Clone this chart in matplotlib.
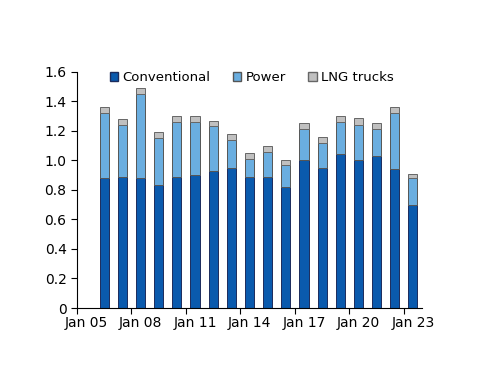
import numpy as np
import matplotlib
matplotlib.use("Agg")
import matplotlib.pyplot as plt
from matplotlib.patches import Patch

# yearly bars, 2006..2023 (plotted mid-year)
years = np.arange(2006, 2024)
conventional = [0.88, 0.89, 0.88, 0.83, 0.89, 0.90, 0.93, 0.95, 0.89, 0.89, 0.82, 1.00, 0.95, 1.04, 1.00, 1.03, 0.94, 0.70]
power = [0.44, 0.35, 0.57, 0.32, 0.37, 0.36, 0.30, 0.19, 0.12, 0.17, 0.15, 0.21, 0.17, 0.22, 0.24, 0.18, 0.38, 0.18]
lng = [0.04, 0.04, 0.04, 0.04, 0.04, 0.04, 0.04, 0.04, 0.04, 0.04, 0.035, 0.04, 0.035, 0.04, 0.045, 0.045, 0.04, 0.03]
tick_years = [2005, 2008, 2011, 2014, 2017, 2020, 2023]
tick_labels = ["Jan 05", "Jan 08", "Jan 11", "Jan 14", "Jan 17", "Jan 20", "Jan 23"]

c_conv = "#0a5aad"
c_pow = "#6aaee0"
c_lng = "#c0c0c0"

plt.rcParams['font.family'] = ['DejaVu Sans']
fig = plt.figure(figsize=(5.0, 3.86), dpi=100)
ax = fig.add_axes([0.154, 0.202, 0.69, 0.612])

x = years + 0.5
w = 0.5
conv = np.array(conventional)
pw = np.array(power)
ax.bar(x, conv, w, color=c_conv, edgecolor="#1c2c5c", linewidth=0.7)
ax.bar(x, pw, w, bottom=conv, color=c_pow, edgecolor="#555555", linewidth=0.7)
ax.bar(x, lng, w, bottom=conv + pw, color=c_lng, edgecolor="#666666", linewidth=0.7)

ax.set_xlim(2005, 2024)
ax.set_ylim(0, 1.6)
ax.set_yticks(np.arange(0, 1.61, 0.2))
ax.set_yticklabels(["0"] + ["%.1f" % v for v in np.arange(0.2, 1.61, 0.2)])

# ticks at year boundaries, labels nudged half a year right
ax.set_xticks(tick_years)
ax.set_xticklabels([])
ax.set_xticks([t + 0.5 for t in tick_years], minor=True)
ax.set_xticklabels(tick_labels, minor=True)
ax.tick_params(axis="x", which="minor", length=0, pad=6)
ax.tick_params(axis="x", which="major", length=4, direction="out")
ax.tick_params(axis="y", length=4, direction="out")
ax.tick_params(labelsize=10, colors="black")

for s in ["top", "right"]:
    ax.spines[s].set_visible(False)
for s in ["left", "bottom"]:
    ax.spines[s].set_linewidth(0.8)

handles = [Patch(facecolor=c_conv, edgecolor="#1c2c5c", label="Conventional"),
           Patch(facecolor=c_pow, edgecolor="#555555", label="Power"),
           Patch(facecolor=c_lng, edgecolor="#666666", label="LNG trucks")]
ax.legend(handles=handles, loc="upper left", bbox_to_anchor=(0.061, 1.052), ncol=3,
          frameon=False, fontsize=9.5, handlelength=0.65, handleheight=0.65,
          handletextpad=0.3, columnspacing=1.7)

fig.savefig("out.png", dpi=100)
